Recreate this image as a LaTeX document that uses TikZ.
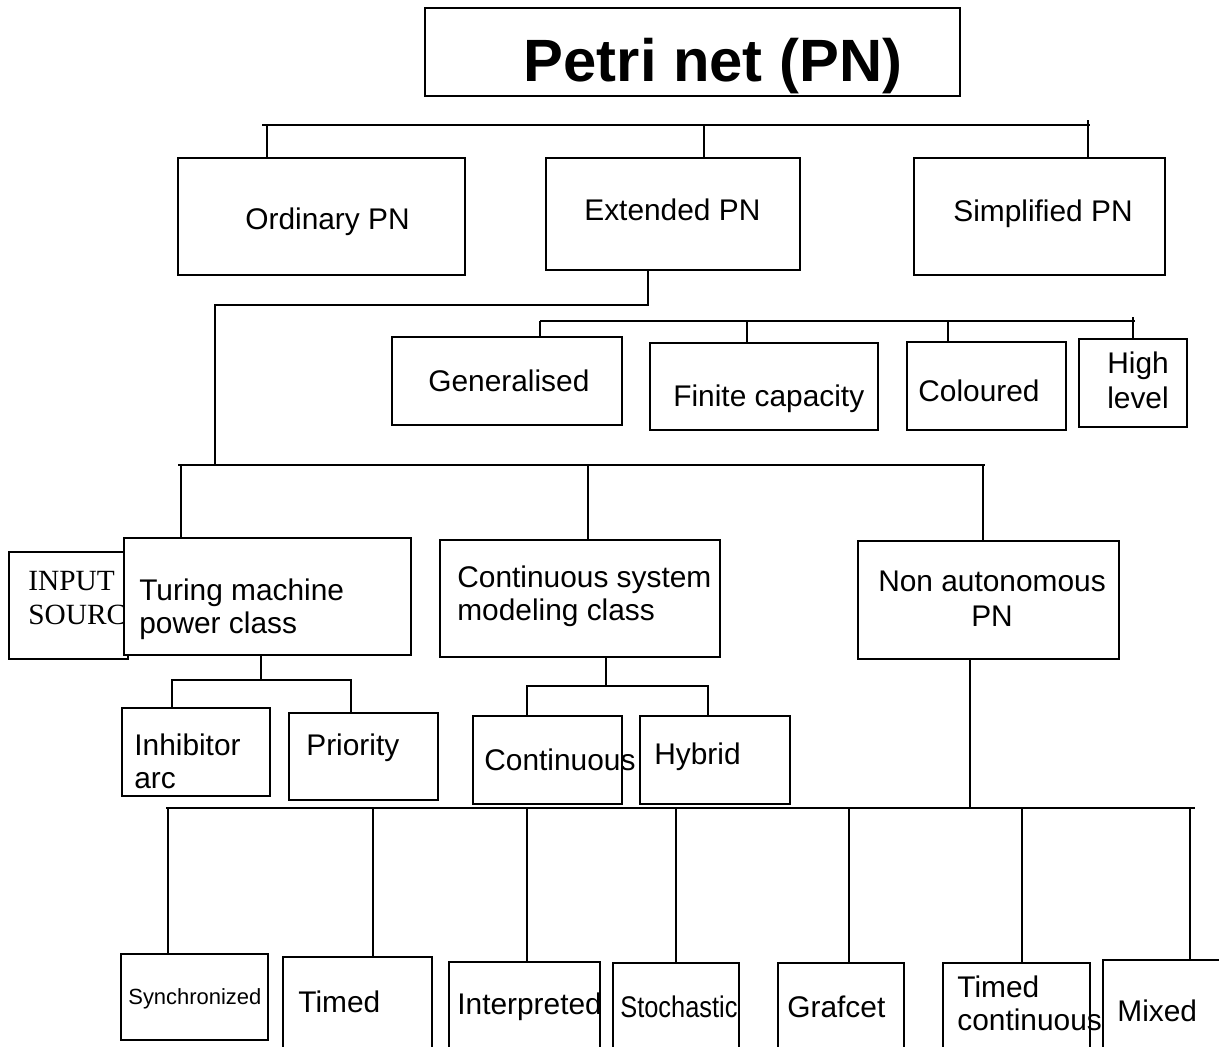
\documentclass[tikz,border=0pt]{standalone}
\usepackage{fontspec}
\setmainfont{Liberation Sans}
\newfontfamily\srcfont{Liberation Serif}
\usetikzlibrary{positioning, fit}
\tikzset{
  pnbox/.style={draw, line width=0.8pt, fill=white, inner sep=0pt},
  lbl/.style={font=\fontsize{17}{19}\selectfont, inner sep=0pt, align=left, anchor=west},
  lblc/.style={font=\fontsize{17}{20}\selectfont, inner sep=0pt, align=center},
  wire/.style={line width=0.8pt}
}

\begin{document}
\begin{tikzpicture}[x=0.02cm, y=-0.02cm]
  \clip (0,0) rectangle (1219,1046);
  % titulo
  \node (pn) [pnbox, fit={(425,8) (960,96)}] {};
  \node (pnT) [font=\fontsize{34}{40}\selectfont\bfseries, inner sep=0pt] at (713,66) {Petri net (PN)};
  % nivel 1
  \node (ordinary) [pnbox, fit={(178,158) (465,275)}] {};
  \node (ordinaryT) [lbl] at (245,222) {Ordinary PN};
  \node (extended) [pnbox, fit={(546,158) (800,270)}] {};
  \node (extendedT) [lbl] at (584,210) {Extended PN};
  \node (simplified) [pnbox, fit={(914,158) (1165,275)}] {};
  \node (simplifiedT) [lbl] at (953,214) {Simplified PN};
  \coordinate (b1w) at (262,125);
  \coordinate (b1e) at (1090,125);
  \coordinate (b1a) at (267,125);
  \coordinate (b1b) at (704,125);
  \coordinate (b1c) at (1088,120);
  \draw [wire] (b1w) -- (b1e);
  \draw [wire] (b1a) -- (b1a |- ordinary.north);
  \draw [wire] (b1b) -- (b1b |- extended.north);
  \draw [wire] (b1c) -- (b1c |- simplified.north);
  % extended: subclases
  \node (generalised) [pnbox, fit={(392,337) (622,425)}] {};
  \node (generalisedT) [lbl] at (428,381) {Generalised};
  \node (finite) [pnbox, fit={(650,343) (878,430)}] {};
  \node (finiteT) [lbl] at (673,399) {Finite capacity};
  \node (coloured) [pnbox, fit={(907,342) (1066,430)}] {};
  \node (colouredT) [lbl] at (918,391) {Coloured};
  \node (highlevel) [pnbox, fit={(1079,339) (1187,427)}] {};
  \node (highlevelT) [lblc] at (1138,380) {High\\level};
  \coordinate (b2w) at (540,321);
  \coordinate (b2e) at (1135,321);
  \coordinate (b2a) at (747,321);
  \coordinate (b2b) at (948,321);
  \coordinate (b2c) at (1133,317);
  \draw [wire] (b2w) -- (b2e);
  \draw [wire] (b2w) -- (b2w |- generalised.north);
  \draw [wire] (b2a) -- (b2a |- finite.north);
  \draw [wire] (b2b) -- (b2b |- coloured.north);
  \draw [wire] (b2c) -- (b2c |- highlevel.north);
  % nivel 3
  \coordinate (e1) at (648,305);
  \coordinate (e2) at (215,305);
  \coordinate (b3w) at (178,465);
  \coordinate (b3e) at (985,465);
  \draw [wire] (e1 |- extended.south) -- (e1) -- (e2) -- (e2 |- b3w);
  \draw [wire] (b3w) -- (b3e);
  \node (input) [pnbox, fit={(9,552) (128,659)}] {};
  \node (inputT) [lbl, font=\fontsize{16.7}{19}\srcfont] at (28,598) {INPUT\\SOURCE};
  \node (turing) [pnbox, fit={(124,538) (411,655)}] {};
  \node (turingT) [lbl] at (139,609) {Turing machine\\power class};
  \node (contsys) [pnbox, fit={(440,540) (720,657)}] {};
  \node (contsysT) [lbl] at (457,596) {Continuous system\\modeling class};
  \node (nonauto) [pnbox, fit={(858,541) (1119,659)}] {};
  \node (nonautoT) [lblc] at (992,599) {Non autonomous\\PN};
  \coordinate (b3a) at (181,465);
  \coordinate (b3b) at (588,465);
  \coordinate (b3c) at (983,465);
  \draw [wire] (b3a) -- (b3a |- turing.north);
  \draw [wire] (b3b) -- (b3b |- contsys.north);
  \draw [wire] (b3c) -- (b3c |- nonauto.north);
  % turing: hijos
  \node (inhibitor) [pnbox, fit={(122,708) (270,796)}] {};
  \node (inhibitorT) [lbl] at (134,761) {Inhibitor\\arc};
  \node (priority) [pnbox, fit={(289,713) (438,800)}] {};
  \node (priorityT) [lbl] at (306,748) {Priority};
  \coordinate (t1) at (261,680);
  \coordinate (t1w) at (172,680);
  \coordinate (t1e) at (351,680);
  \draw [wire] (t1 |- turing.south) -- (t1);
  \draw [wire] (t1w |- inhibitor.north) -- (t1w) -- (t1e) -- (t1e |- priority.north);
  % continuous system: hijos
  \node (continuous) [pnbox, fit={(473,716) (622,804)}] {};
  \node (continuousT) [lbl] at (484,760) {Continuous};
  \node (hybrid) [pnbox, fit={(640,716) (790,804)}] {};
  \node (hybridT) [lbl] at (654,757) {Hybrid};
  \coordinate (c1) at (606,686);
  \coordinate (c1w) at (527,686);
  \coordinate (c1e) at (708,686);
  \draw [wire] (c1 |- contsys.south) -- (c1);
  \draw [wire] (c1w |- continuous.north) -- (c1w) -- (c1e) -- (c1e |- hybrid.north);
  % non autonomous: hijos
  \node (sync) [pnbox, fit={(121,954) (268,1040)}] {};
  \node (syncT) [lbl, font=\fontsize{12.5}{15}\selectfont] at (128,999) {Synchronized};
  \node (timed) [pnbox, fit={(283,957) (432,1060)}] {};
  \node (timedT) [lbl] at (298,1002) {Timed};
  \node (interp) [pnbox, fit={(449,962) (600,1060)}] {};
  \node (interpT) [lbl] at (457,1007) {Interpreted};
  \node (stoch) [pnbox, fit={(613,963) (739,1060)}] {};
  \node (stochT) [lbl] at (620,1007) {\scalebox{0.85}[1]{Stochastic}};
  \node (grafcet) [pnbox, fit={(778,963) (904,1060)}] {};
  \node (grafcetT) [lbl] at (787,1007) {Grafcet};
  \node (timedcont) [pnbox, fit={(943,963) (1090,1060)}] {};
  \node (timedcontT) [lbl] at (957,1003) {Timed\\continuous};
  \node (mixed) [pnbox, fit={(1103,960) (1240,1060)}] {};
  \node (mixedT) [lbl] at (1117,1011) {Mixed};
  \coordinate (n1) at (970,808);
  \coordinate (n1w) at (166,808);
  \coordinate (n1e) at (1195,808);
  \draw [wire] (n1 |- nonauto.south) -- (n1);
  \draw [wire] (n1w) -- (n1e);
  \coordinate (na) at (168,808);
  \coordinate (nb) at (373,808);
  \coordinate (nc) at (527,808);
  \coordinate (nd) at (676,808);
  \coordinate (ne) at (849,808);
  \coordinate (nf) at (1022,808);
  \coordinate (ng) at (1190,808);
  \draw [wire] (na) -- (na |- sync.north);
  \draw [wire] (nb) -- (nb |- timed.north);
  \draw [wire] (nc) -- (nc |- interp.north);
  \draw [wire] (nd) -- (nd |- stoch.north);
  \draw [wire] (ne) -- (ne |- grafcet.north);
  \draw [wire] (nf) -- (nf |- timedcont.north);
  \draw [wire] (ng) -- (ng |- mixed.north);
\end{tikzpicture}
\end{document}
